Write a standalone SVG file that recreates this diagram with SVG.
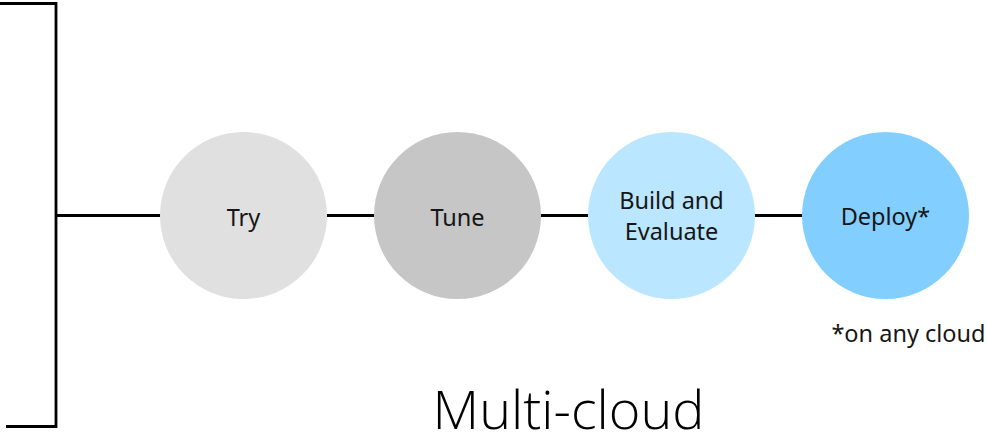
<svg xmlns="http://www.w3.org/2000/svg" width="987" height="433" viewBox="0 0 987 433">
  <style>
    .line { stroke: #000; stroke-width: 2.8; fill: none; }
    .label { font-family: "Noto Sans", "Open Sans", sans-serif; font-size: 23.5px; fill: #161616; text-anchor: middle; }
    .note { font-family: "Noto Sans", "Open Sans", sans-serif; font-size: 23.5px; fill: #161616; text-anchor: middle; }
    .title { font-family: "Open Sans", "Noto Sans", sans-serif; font-weight: 300; font-size: 54px; fill: #000; text-anchor: middle; }
  </style>
  <rect width="987" height="433" fill="#fff"/>

  <g id="connectors">
    <path class="line" d="M0 3.5 H56 V426.5 H6"/>
    <line class="line" x1="56" y1="215.5" x2="162" y2="215.5"/>
    <line class="line" x1="325" y1="215.5" x2="376" y2="215.5"/>
    <line class="line" x1="539" y1="215.5" x2="590" y2="215.5"/>
    <line class="line" x1="753" y1="215.5" x2="804" y2="215.5"/>
  </g>

  <g id="try">
    <circle cx="243.5" cy="215.5" r="83.5" fill="#e0e0e0"/>
    <text class="label" x="243.5" y="226">Try</text>
  </g>
  <g id="tune">
    <circle cx="457.5" cy="215.5" r="83.5" fill="#c6c6c6"/>
    <text class="label" x="457.5" y="226">Tune</text>
  </g>
  <g id="build">
    <circle cx="671.5" cy="215.5" r="83.5" fill="#bae6ff"/>
    <text class="label" x="671.5" y="209">Build and</text>
    <text class="label" x="671.5" y="240">Evaluate</text>
  </g>
  <g id="deploy">
    <circle cx="885.5" cy="215.5" r="83.5" fill="#82cfff"/>
    <text class="label" x="885.5" y="225">Deploy*</text>
  </g>

  <text class="note" x="908.5" y="342">*on any cloud</text>
  <text class="title" x="568.5" y="428.5">Multi-cloud</text>
</svg>
